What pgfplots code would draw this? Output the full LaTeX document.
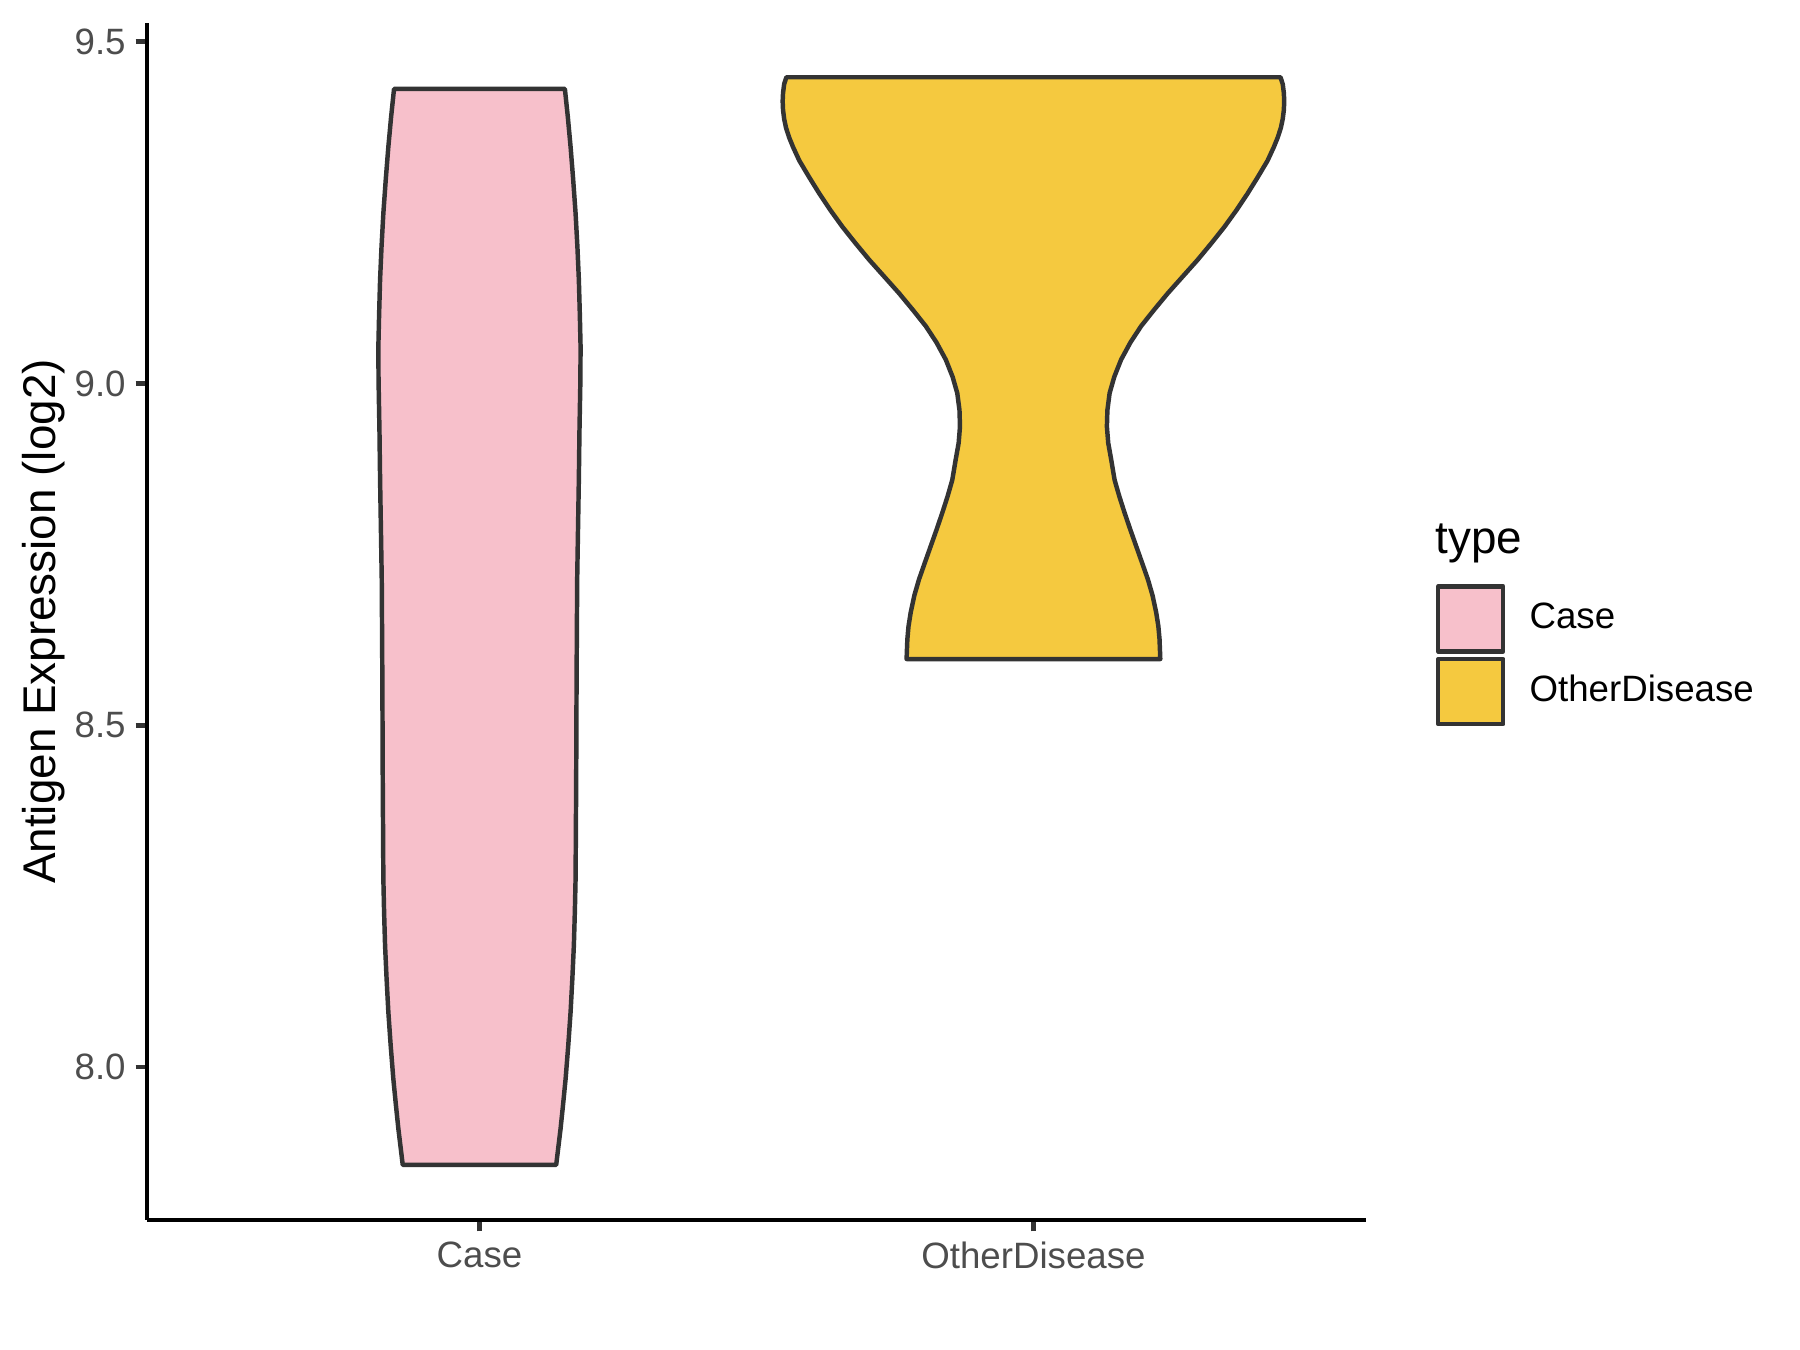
\documentclass[border=0pt]{standalone}
\usepackage{fontspec}
\setmainfont{Liberation Sans}
\usepackage{pgfplots}
\pgfplotsset{compat=1.18}
\definecolor{casepink}{HTML}{F7C0CB}
\definecolor{otheryellow}{HTML}{F5C93F}
\definecolor{outline}{HTML}{333333}
\definecolor{ticktext}{HTML}{4D4D4D}

\begin{document}
\begin{tikzpicture}
\path[use as bounding box] (0,0) rectangle (432pt,324pt);
\begin{axis}[
  at={(35.3pt,31.2pt)}, anchor=south west,
  scale only axis, width=292.5pt, height=287.3pt,
  xmin=0.4, xmax=2.6, ymin=7.7765, ymax=9.5275,
  axis x line*=bottom, axis y line*=left,
  axis line style={-, line width=1.07pt, black},
  xtick={1,2}, xticklabels={Case, OtherDisease},
  ytick={8,8.5,9,9.5},
  tick align=outside, major tick length=2.75pt,
  tick style={line width=1.07pt, outline},
  minor tick num=0,
  tick label style={font=\fontsize{8.8}{10}\selectfont, color=ticktext},
  yticklabel style={inner sep=0pt, anchor=east, xshift=-2.2pt,
    /pgf/number format/.cd, fixed, fixed zerofill, precision=1, assume math mode=true},
  xticklabel style={inner sep=0pt, anchor=north, yshift=-2.2pt},
  ylabel={Antigen Expression (log2)},
  every axis y label/.style={at={(axis description cs:-0.0848,0.5)}, rotate=90, anchor=center,
    font=\fontsize{11}{13}\selectfont},
  legend style={at={(axis description cs:1.0569,0.5319)}, anchor=north west,
    draw=none, fill=none, inner sep=0pt, row sep=0.8pt, column sep=5.8pt,
    font=\fontsize{8.8}{10}\selectfont, nodes={inner sep=0pt}},
  legend cell align=left,
  legend image code/.code={\draw[#1, line width=1.07pt] (0pt,-7.8pt) rectangle (15.6pt,7.8pt);},
  clip=false,
]
% Case violin: left edge upward, right edge downward
\addplot[fill=casepink, draw=outline, line width=1.07pt, line join=round] coordinates {
  (0.8615,7.857) (0.8536,7.910) (0.8490,7.946) (0.8445,7.983) (0.8397,8.032)
  (0.8355,8.081) (0.8323,8.130) (0.8296,8.178) (0.8278,8.228) (0.8265,8.276)
  (0.8254,8.422) (0.8247,8.568) (0.8236,8.714) (0.8206,8.860) (0.8195,8.930)
  (0.8178,9.006) (0.8175,9.054) (0.8188,9.100) (0.8206,9.152) (0.8232,9.200)
  (0.8265,9.249) (0.8310,9.300) (0.8355,9.346) (0.8405,9.390) (0.8458,9.431)
  (1.1542,9.431) (1.1595,9.390) (1.1645,9.346) (1.1690,9.300) (1.1735,9.249)
  (1.1768,9.200) (1.1794,9.152) (1.1812,9.100) (1.1825,9.054) (1.1822,9.006)
  (1.1805,8.930) (1.1794,8.860) (1.1764,8.714) (1.1753,8.568) (1.1746,8.422)
  (1.1735,8.276) (1.1722,8.228) (1.1704,8.178) (1.1677,8.130) (1.1645,8.081)
  (1.1603,8.032) (1.1555,7.983) (1.1510,7.946) (1.1464,7.910) (1.1385,7.857)
} -- cycle;
\addlegendentry{Case}
% OtherDisease violin
\addplot[fill=otheryellow, draw=outline, line width=1.07pt, line join=round] coordinates {
  (1.7710,8.597) (1.7724,8.626) (1.7745,8.645) (1.7784,8.665) (1.7850,8.690)
  (1.7934,8.7135) (1.8040,8.738) (1.8145,8.762) (1.8250,8.786) (1.8355,8.811)
  (1.8450,8.835) (1.8535,8.859) (1.8597,8.889) (1.8650,8.913) (1.8674,8.937)
  (1.8665,8.961) (1.8625,8.986) (1.8540,9.010) (1.8417,9.035) (1.8250,9.060)
  (1.8056,9.084) (1.7820,9.108) (1.7575,9.132) (1.7300,9.157) (1.7035,9.181)
  (1.6790,9.205) (1.6554,9.229) (1.6340,9.253) (1.6134,9.278) (1.5950,9.302)
  (1.5774,9.326) (1.5660,9.346) (1.5590,9.360) (1.5534,9.374) (1.5500,9.387)
  (1.5480,9.400) (1.5473,9.413) (1.5480,9.425) (1.5500,9.438) (1.5540,9.448)
  (2.4460,9.448) (2.4500,9.438) (2.4520,9.425) (2.4527,9.413) (2.4520,9.400)
  (2.4500,9.387) (2.4466,9.374) (2.4410,9.360) (2.4340,9.346) (2.4226,9.326)
  (2.4050,9.302) (2.3866,9.278) (2.3660,9.253) (2.3446,9.229) (2.3210,9.205)
  (2.2965,9.181) (2.2700,9.157) (2.2425,9.132) (2.2180,9.108) (2.1944,9.084)
  (2.1750,9.060) (2.1583,9.035) (2.1460,9.010) (2.1375,8.986) (2.1335,8.961)
  (2.1326,8.937) (2.1350,8.913) (2.1403,8.889) (2.1465,8.859) (2.1550,8.835)
  (2.1645,8.811) (2.1750,8.786) (2.1855,8.762) (2.1960,8.738) (2.2066,8.7135)
  (2.2150,8.690) (2.2216,8.665) (2.2255,8.645) (2.2276,8.626) (2.2290,8.597)
} -- cycle;
\addlegendentry{OtherDisease}
\node[anchor=base west, font=\fontsize{11}{13}\selectfont, inner sep=0pt]
  at (axis description cs:1.0564,0.557) {type};
\end{axis}
\end{tikzpicture}
\end{document}
